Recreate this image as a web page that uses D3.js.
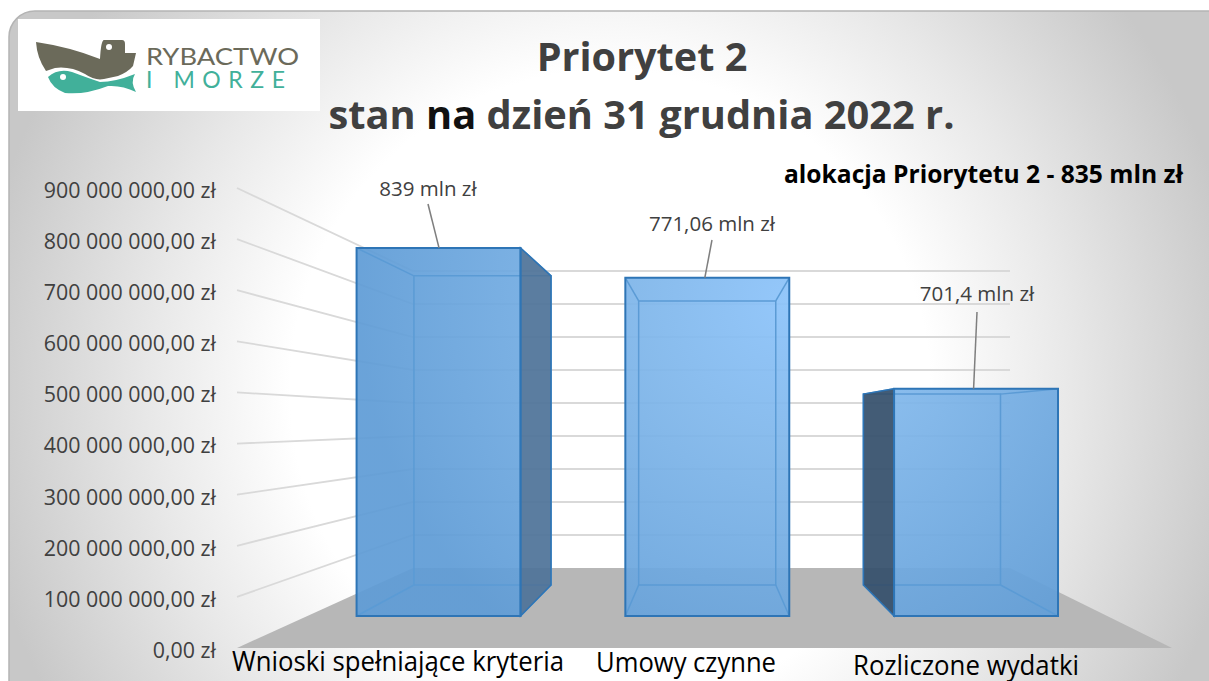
<!DOCTYPE html>
<html><head><meta charset="utf-8">
<script src="https://cdnjs.cloudflare.com/ajax/libs/d3/7.8.5/d3.min.js"></script>
<style>html,body{margin:0;padding:0;background:#fff;overflow:hidden}svg{display:block}text{font-family:"Open Sans",sans-serif}</style>
</head><body><svg id="c" width="1209" height="681"></svg>
<script>
const categories = ["Wnioski spełniające kryteria", "Umowy czynne", "Rozliczone wydatki"];
const barValues = [839000000, 771060000, 518000000];
const valueLabels = ["839 mln zł", "771,06 mln zł", "701,4 mln zł"];
const yTicks = [0, 100000000, 200000000, 300000000, 400000000, 500000000, 600000000, 700000000, 800000000, 900000000];
const titleLine1 = "Priorytet 2";
const note = "alokacja Priorytetu 2 - 835 mln zł";

const svg = d3.select("#c");
const defs = svg.append("defs");

const bg = defs.append("radialGradient").attr("id","bg").attr("gradientUnits","userSpaceOnUse")
  .attr("cx",610).attr("cy",390).attr("r",640);
[[0,"#ffffff"],[.5,"#ffffff"],[.72,"#e8e8e8"],[1,"#c8c8c8"]].forEach(s=>bg.append("stop").attr("offset",s[0]).attr("stop-color",s[1]));
const blue = defs.append("radialGradient").attr("id","blue").attr("gradientUnits","userSpaceOnUse")
  .attr("cx",790).attr("cy",300).attr("r",430);
[[0,"#8cc3fa"],[.35,"#7fb6ea"],[1,"#5f9cd6"]].forEach(s=>blue.append("stop").attr("offset",s[0]).attr("stop-color",s[1]));

// card
svg.append("rect").attr("x",9).attr("y",11).attr("width",1240).attr("height",700).attr("rx",26)
  .attr("fill","url(#bg)").attr("stroke","#b4b4b4").attr("stroke-width",1.5);

// perspective scales: t=0 front plane of the chart box, t=1 back wall
const xFront = d3.scaleLinear().domain([0,1]).range([237,1172]);
const xBack  = d3.scaleLinear().domain([0,1]).range([413,1010]);
const yFront = d3.scaleLinear().domain([0,900000000]).range([648,188]);
const yBack  = d3.scaleLinear().domain([0,900000000]).range([568,271]);
const P = (u,v,t)=>[xFront(u)+(xBack(u)-xFront(u))*t, yFront(v)+(yBack(v)-yFront(v))*t];
const band = d3.scaleBand().domain(categories).range([0,1]).paddingInner(.39).paddingOuter(.183);
const barT0 = .4, barT1 = .7875, barDrift = -2.8;
// bars recede slightly left of the wall's convergence
const Pb = (u,v,t)=>{const p=P(u,v,t); p[0]+=barDrift*(t-barT0)/(barT1-barT0); return p;};
const line = d3.line();

// floor
svg.append("path").attr("d",line([P(0,0,0),P(1,0,0),P(1,0,1),P(0,0,1)])+"Z").attr("fill","#b7b7b7");

// gridlines
const grid = svg.append("g").attr("fill","none").attr("stroke","#d9d9d9").attr("stroke-width",1.8);
yTicks.slice(1).forEach(v=>{
  grid.append("path").attr("d",line([P(0,v,0),P(0,v,1),P(1,v,1)]));
});

// axis
const ax = svg.append("g").attr("transform","translate(216,2.5)")
  .call(d3.axisLeft(yFront).tickValues(yTicks).tickSize(0).tickPadding(0)
    .tickFormat(v=>d3.format(",")(v).replace(/,/g," ")+",00 zł"));
ax.select(".domain").remove();
ax.selectAll("text").attr("font-size",21.4).attr("fill","#404040").style("font-family",'"Open Sans",sans-serif');

// bars
const sideFill = ["#4f7399", null, "#35506c"];
categories.forEach((c,i)=>{
  const u0 = band(c), u1 = u0+band.bandwidth(), v = barValues[i];
  const g = svg.append("g");
  const a=Pb(u0,v,barT0), b=Pb(u1,v,barT0), cc=Pb(u1,0,barT0), d=Pb(u0,0,barT0);
  const e=Pb(u0,v,barT1), f=Pb(u1,v,barT1), h=Pb(u1,0,barT1), k=Pb(u0,0,barT1);
  // front face
  g.append("path").attr("d",line([a,b,cc,d])+"Z").attr("fill","url(#blue)").attr("fill-opacity",.93);
  // far box edges
  const inner = g.append("g").attr("fill","none").attr("stroke","#5b9bd5").attr("stroke-width",1.5);
  inner.append("path").attr("d",line([e,f,h,k])+"Z");
  [[a,e],[b,f],[cc,h],[d,k]].forEach(p=>inner.append("path").attr("d",line(p)));
  // side faces in view
  if (i===0) g.append("path").attr("d",line([b,f,h,cc])+"Z").attr("fill",sideFill[0]).attr("fill-opacity",.93).attr("stroke","#2e75b6").attr("stroke-width",1.5);
  if (i===2) g.append("path").attr("d",line([a,e,k,d])+"Z").attr("fill",sideFill[2]).attr("fill-opacity",.93).attr("stroke","#2e75b6").attr("stroke-width",1.5);
  // front edges
  g.append("path").attr("d",line([a,b,cc,d])+"Z").attr("fill","none").attr("stroke","#2e75b6").attr("stroke-width",2);
});

// value labels
const labelAnchor = [[428,189,428,204],[712,224,712,240],[977,294,977,312]];
const leaderFoot = [.503,.485,.485];
const lab = svg.append("g");
categories.forEach((c,i)=>{
  const [lx,ly,sx,sy] = labelAnchor[i];
  const u = band(c)+band.bandwidth()*leaderFoot[i];
  const foot = P(u,barValues[i],barT0);
  lab.append("path").attr("d",line([[sx,sy],foot])).attr("stroke","#7f7f7f").attr("stroke-width",1.5).attr("fill","none");
  lab.append("text").attr("x",lx).attr("y",ly).attr("dy","0.35em").attr("text-anchor","middle")
    .attr("font-size",20.5).attr("fill","#404040").text(valueLabels[i]);
});

// category labels
const catLayout = [[232,671,332],[596,672,180],[853,675,226]];
categories.forEach((c,i)=>{
  svg.append("text").attr("x",catLayout[i][0]).attr("y",catLayout[i][1]).attr("font-size",27.5)
    .attr("textLength",catLayout[i][2]).attr("lengthAdjust","spacingAndGlyphs").attr("fill","#000").text(c);
});

// title
svg.append("text").attr("x",642).attr("y",71).attr("text-anchor","middle").attr("font-size",39.6).attr("font-weight",700).attr("fill","#404040").text(titleLine1);
const t2 = svg.append("text").attr("x",641.5).attr("y",129).attr("text-anchor","middle").attr("font-size",39.8).attr("font-weight",700).attr("fill","#404040");
t2.append("tspan").text("stan ");
t2.append("tspan").attr("fill","#111").text("na");
t2.append("tspan").text(" dzień 31 grudnia 2022 r.");
svg.append("text").attr("x",1183).attr("y",183).attr("text-anchor","end").attr("font-size",24.6).attr("font-weight",700).attr("fill","#000").text(note);

// logo
const lg = svg.append("g");
lg.append("rect").attr("x",18).attr("y",19).attr("width",302).attr("height",92).attr("fill","#fff");
lg.append("path").attr("fill","#6b6a5a").attr("d","M36 42 Q70 47 100 59 Q101 40 104 40 L122 40 Q125 40 125 44 L125 53 L136 53 L133 66 Q128 72 118 76 L104 79 Q95 81 85 74 Q70 66 55 68 L46 71 Q37 58 36 42Z");
lg.append("circle").attr("cx",109).attr("cy",47).attr("r",3).attr("fill","#fff");
lg.append("path").attr("fill","#41b09a").attr("d","M48 77 Q58 68 72 72 Q88 78 100 82 Q115 82 135 74 Q130 82 136 92 Q122 85 108 86 Q85 95 65 93 Q52 88 48 77Z");
lg.append("circle").attr("cx",63).attr("cy",77).attr("r",3).attr("fill","#fff");
lg.append("text").attr("x",146).attr("y",65).attr("font-size",24).attr("font-weight",400).attr("textLength",153).attr("lengthAdjust","spacingAndGlyphs").attr("fill","#6b6a5a").style("font-family",'Lato,sans-serif').text("RYBACTWO");
lg.append("text").attr("x",146).attr("y",88).attr("font-size",23).attr("font-weight",400).attr("textLength",139).attr("lengthAdjust","spacing").attr("fill","#41b09a").style("font-family",'Lato,sans-serif').text("I MORZE");
</script></body></html>
